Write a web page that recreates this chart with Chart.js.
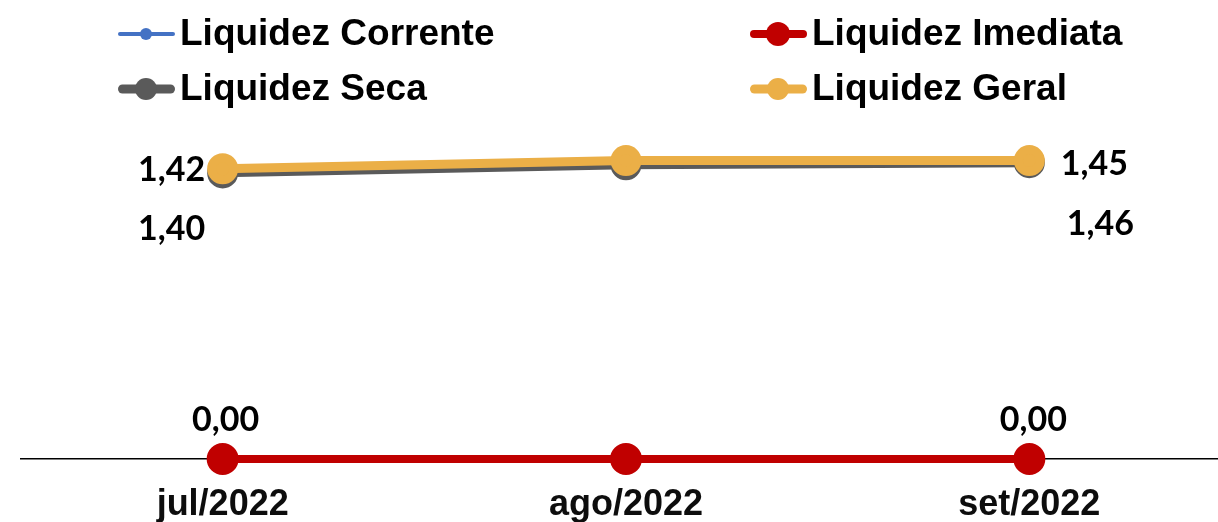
<!DOCTYPE html>
<html>
<head>
<meta charset="utf-8">
<script src="https://cdn.jsdelivr.net/npm/chart.js@4/dist/chart.umd.min.js"></script>
<style>
  html, body { margin: 0; padding: 0; background: #fff; overflow: hidden; }
  #wrap { width: 1251px; height: 522px; position: relative; }
</style>
</head>
<body>
<div id="wrap"><canvas id="chart"></canvas></div>
<script>
const months = ['jul/2022', 'ago/2022', 'set/2022'];

const liqCorrente = [1.42, 1.46, 1.46];
const liqImediata = [0.00, 0.00, 0.00];
const liqSeca = [1.40, 1.44, 1.45];
const liqGeral = [1.42, 1.46, 1.46];

// labels shown on the points (null = no label)
const labelsImediata = ['0,00', null, '0,00'];
const labelsSeca = ['1,40', null, '1,45'];
const labelsGeral = ['1,42', null, '1,46'];

const AXIS_FONT = 'bold 37px "Liberation Sans", Arial, sans-serif';
const LABEL_FONT = 'bold 34px Lato, "Open Sans", sans-serif';

function ds(label, data, color, width, radius, order, labels, offsets) {
  return {
    label, data, order,
    borderColor: color, backgroundColor: color,
    pointBackgroundColor: color, pointBorderColor: color,
    borderWidth: width, pointRadius: radius, pointHoverRadius: radius,
    tension: 0, fill: false, clip: false,
    legendWidth: width, legendRadius: radius,
    pointLabels: labels, labelOffsets: offsets
  };
}

const datasets = [
  ds('Liquidez Corrente', liqCorrente, '#4472C4', 4, 6, 3, null, null),
  ds('Liquidez Imediata', liqImediata, '#C00000', 8, 12, 4, labelsImediata,
     [[3, -39], null, [4, -39]]),
  ds('Liquidez Seca', liqSeca, '#5A5A5A', 9, 11, 2, labelsSeca,
     [[-51, 56], null, [65, 1]]),
  ds('Liquidez Geral', liqGeral, '#EBAF47', 9, 11, 1, labelsGeral,
     [[-51, 1], null, [71, 63]])
];

// legend item spots, in data order
const legendSpots = [[118, 34], [750, 34], [118, 89], [750, 89]];

const pointLabelPlugin = {
  id: 'pointLabels',
  afterDatasetsDraw(chart) {
    const ctx = chart.ctx;
    ctx.save();
    ctx.font = LABEL_FONT;
    ctx.fillStyle = '#000';
    ctx.textAlign = 'center';
    ctx.textBaseline = 'middle';
    chart.data.datasets.forEach((d, i) => {
      if (!d.pointLabels) return;
      const meta = chart.getDatasetMeta(i);
      d.pointLabels.forEach((txt, j) => {
        if (!txt) return;
        const pt = meta.data[j];
        const off = d.labelOffsets[j];
        ctx.fillText(txt, pt.x + off[0], pt.y + off[1]);
      });
    });
    ctx.restore();
  }
};

const legendPlugin = {
  id: 'twoColLegend',
  afterDraw(chart) {
    const ctx = chart.ctx;
    ctx.save();
    chart.data.datasets.forEach((d, i) => {
      const [x, y] = legendSpots[i];
      ctx.strokeStyle = d.borderColor;
      ctx.lineWidth = d.legendWidth;
      ctx.lineCap = 'round';
      ctx.beginPath();
      ctx.moveTo(x + d.legendWidth / 2, y);
      ctx.lineTo(x + 57 - d.legendWidth / 2, y);
      ctx.stroke();
      ctx.fillStyle = d.borderColor;
      ctx.beginPath();
      ctx.arc(x + 28, y, d.legendRadius, 0, Math.PI * 2);
      ctx.fill();
      ctx.fillStyle = '#000';
      ctx.font = AXIS_FONT;
      ctx.textAlign = 'left';
      ctx.textBaseline = 'middle';
      ctx.fillText(d.label, x + 62, y + 1);
    });
    ctx.restore();
  }
};

new Chart(document.getElementById('chart'), {
  type: 'line',
  data: { labels: months, datasets },
  plugins: [pointLabelPlugin, legendPlugin],
  options: {
    responsive: true,
    maintainAspectRatio: false,
    animation: false,
    layout: { padding: { top: 132, left: 21, right: 0, bottom: 0 } },
    plugins: { legend: { display: false }, tooltip: { enabled: false } },
    scales: {
      x: {
        offset: true,
        grid: { display: false, drawTicks: false },
        border: { display: true, color: '#000', width: 1.5 },
        ticks: {
          color: '#0d0d0d',
          font: { family: '"Liberation Sans", Arial, sans-serif', size: 36, weight: 'bold' },
          padding: 24
        },
        afterFit(scale) { scale.height = 63; }
      },
      y: {
        display: false,
        min: 0,
        max: 1.6
      }
    }
  }
});
</script>
</body>
</html>
